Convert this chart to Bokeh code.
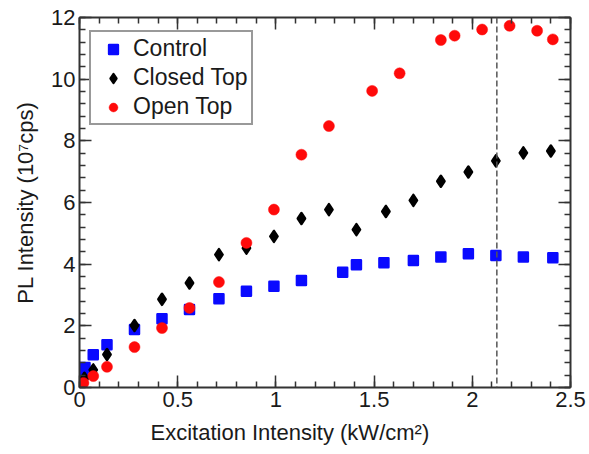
from bokeh.plotting import figure
from bokeh.models import (FixedTicker, LinearAxis, Range1d, Span, Legend,
                          LegendItem, Title, NumeralTickFormatter)
from bokeh.embed import file_html
from bokeh.resources import INLINE

# Excitation intensity (kW/cm^2) and PL intensity (10^7 cps)
control_x = [0.005, 0.017, 0.028, 0.07, 0.14, 0.28, 0.42, 0.56, 0.71, 0.85,
             0.99, 1.13, 1.34, 1.41, 1.55, 1.70, 1.84, 1.98, 2.12, 2.26, 2.41]
control_y = [0.36, 0.54, 0.65, 1.06, 1.39, 1.88, 2.23, 2.53, 2.88, 3.12,
             3.28, 3.47, 3.74, 3.98, 4.05, 4.12, 4.23, 4.34, 4.28, 4.23, 4.21]

closed_x = [0.01, 0.025, 0.07, 0.14, 0.28, 0.42, 0.56, 0.71, 0.85, 0.99,
            1.13, 1.27, 1.41, 1.56, 1.70, 1.84, 1.98, 2.12, 2.26, 2.40]
closed_y = [0.10, 0.30, 0.57, 1.07, 2.01, 2.86, 3.39, 4.31, 4.52, 4.90,
            5.48, 5.77, 5.12, 5.71, 6.07, 6.69, 6.99, 7.35, 7.61, 7.67]

open_x = [0.005, 0.02, 0.07, 0.14, 0.28, 0.42, 0.56, 0.71, 0.85, 0.99,
          1.13, 1.27, 1.49, 1.63, 1.84, 1.91, 2.05, 2.19, 2.33, 2.41]
open_y = [0.06, 0.15, 0.37, 0.67, 1.31, 1.93, 2.58, 3.42, 4.69, 5.77,
          7.55, 8.48, 9.62, 10.19, 11.27, 11.41, 11.61, 11.73, 11.57, 11.29]

threshold_x = 2.125

x_major = [0, 0.5, 1, 1.5, 2, 2.5]
x_minor = [round(i * 0.1, 1) for i in range(26)]
y_major = [0, 2, 4, 6, 8, 10, 12]
y_minor = [round(i * 0.4, 1) for i in range(31)]

series_names = ["Control", "Closed Top", "Open Top"]
x_title = "Excitation Intensity (kW/cm²)"
y_title = "PL Intensity (10⁷cps)"

FONT = "Liberation Sans"
AXIS_COLOR = "#333333"
TEXT_COLOR = "#1a1a1a"
BLUE = "#0a0aff"
RED = "#ff0a0a"

p = figure(width=589, height=454, output_backend="svg", toolbar_location=None,
           x_range=Range1d(0, 2.5), y_range=Range1d(0, 12),
           x_axis_location=None, y_axis_location=None,
           min_border_left=79, min_border_right=19,
           min_border_top=17, min_border_bottom=67)
p.xgrid.visible = False
p.ygrid.visible = False
p.outline_line_color = None
p.background_fill_color = "white"
p.border_fill_color = "white"


def style_axis(axis, show_labels):
    axis.axis_line_color = AXIS_COLOR
    axis.axis_line_width = 2
    axis.major_tick_line_color = AXIS_COLOR
    axis.major_tick_line_width = 1.5
    axis.minor_tick_line_color = AXIS_COLOR
    axis.minor_tick_line_width = 1.5
    axis.major_tick_in = 12
    axis.major_tick_out = 0
    axis.minor_tick_in = 6
    axis.minor_tick_out = 0
    axis.major_label_text_font = FONT
    axis.major_label_text_color = TEXT_COLOR
    axis.major_label_standoff = 4
    axis.axis_label_text_font = FONT
    axis.axis_label_text_font_style = "normal"
    axis.axis_label_text_font_size = "22px"
    axis.axis_label_text_color = TEXT_COLOR
    if show_labels:
        axis.major_label_text_font_size = "22px"
    else:
        axis.major_label_text_font_size = "0px"
        axis.major_label_text_alpha = 0


bottom = LinearAxis(ticker=FixedTicker(ticks=x_major, minor_ticks=x_minor),
                    formatter=NumeralTickFormatter(format="0.[0]"))
top = LinearAxis(ticker=FixedTicker(ticks=x_major, minor_ticks=x_minor))
left = LinearAxis(ticker=FixedTicker(ticks=y_major, minor_ticks=y_minor),
                  axis_label=y_title)
right = LinearAxis(ticker=FixedTicker(ticks=y_major, minor_ticks=y_minor))
style_axis(bottom, True)
style_axis(left, True)
style_axis(top, False)
style_axis(right, False)
left.axis_label_standoff = 10
p.add_layout(bottom, "below")
p.add_layout(left, "left")
p.add_layout(top, "above")
p.add_layout(right, "right")

# x-axis title, starting a little right of the frame's left edge
p.add_layout(Title(text=x_title, align="left", offset=71, standoff=17,
                   text_font=FONT, text_font_style="normal",
                   text_font_size="22px", text_color=TEXT_COLOR), "below")

# threshold marker
p.add_layout(Span(location=threshold_x, dimension="height",
                  line_color="#555555", line_width=1.5, line_dash="6 3"))

# data series
r_control = p.scatter(control_x, control_y, marker="square", size=9,
                      fill_color=BLUE, line_color=BLUE, line_width=2.5,
                      line_join="round")
r_closed = p.scatter(closed_x, closed_y, marker="diamond", size=11,
                     fill_color="black", line_color="black", line_width=2.5,
                     line_join="round")
r_open = p.scatter(open_x, open_y, marker="circle", size=11,
                   fill_color=RED, line_color=RED, line_width=0.5)

legend = Legend(items=[LegendItem(label=series_names[0], renderers=[r_control]),
                       LegendItem(label=series_names[1], renderers=[r_closed]),
                       LegendItem(label=series_names[2], renderers=[r_open])],
                location=(10, 262), orientation="vertical",
                label_text_font=FONT, label_text_font_size="23px",
                label_text_color=TEXT_COLOR,
                padding=3, spacing=2, margin=0,
                glyph_width=38, glyph_height=22, label_height=24,
                label_standoff=1,
                border_line_color=AXIS_COLOR, border_line_width=2,
                background_fill_color="white", background_fill_alpha=1)
p.add_layout(legend)

open("out.html", "w").write(file_html(p, INLINE))
